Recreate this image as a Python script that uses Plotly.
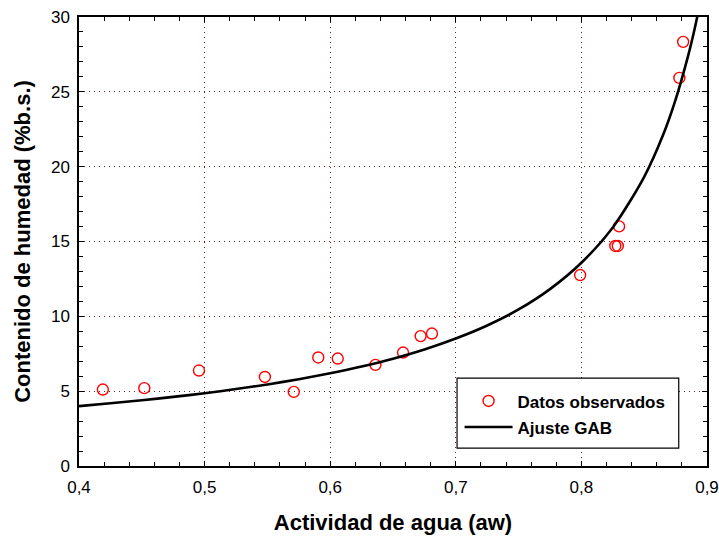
import plotly.graph_objects as go

# Observed moisture sorption data
aw_obs = [0.419, 0.452, 0.4955, 0.548, 0.571, 0.5905, 0.606, 0.636, 0.658,
          0.672, 0.681, 0.799, 0.827, 0.829, 0.830, 0.878, 0.881]
m_obs = [5.11, 5.20, 6.38, 5.95, 4.95, 7.25, 7.18, 6.76, 7.58,
         8.68, 8.85, 12.76, 14.70, 14.70, 16.01, 25.93, 28.34]

# GAB fitted curve, sampled along water activity
aw_fit = [0.400, 0.425, 0.450, 0.475, 0.500, 0.525, 0.550, 0.575, 0.600,
          0.625, 0.650, 0.675, 0.700, 0.725, 0.750, 0.775, 0.800, 0.825,
          0.850, 0.865, 0.875, 0.885, 0.890, 0.895]
m_fit = [4.00, 4.19, 4.39, 4.62, 4.86, 5.14, 5.45, 5.80, 6.20,
         6.65, 7.17, 7.79, 8.52, 9.39, 10.46, 11.82, 13.58, 15.94,
         19.32, 22.11, 24.48, 27.42, 29.15, 31.14]

x_ticks = [0.4, 0.5, 0.6, 0.7, 0.8, 0.9]
y_ticks = [0, 5, 10, 15, 20, 25, 30]

FONT = "Liberation Sans, Arial, sans-serif"
GRID = "#5c2222"

fig = go.Figure()
fig.add_trace(go.Scatter(
    x=aw_obs, y=m_obs, mode="markers", name="Datos observados",
    legendgroup="obs",
    marker=dict(symbol="circle-open", size=11, color="#ff0000",
                line=dict(width=1.4, color="#ff0000")),
))
fig.add_trace(go.Scatter(
    x=aw_fit, y=m_fit, mode="lines", name="Ajuste GAB",
    legendgroup="fit",
    line=dict(color="black", width=2.6, shape="spline", smoothing=0.8),
))

axis_common = dict(
    showline=True, linecolor="black", linewidth=1.5, mirror="allticks",
    ticks="inside", ticklen=5, tickwidth=1, tickcolor="black",
    showgrid=True, gridcolor=GRID, gridwidth=1, griddash="1px,4px",
    zeroline=False, automargin=False,
    tickfont=dict(family=FONT, size=17, color="black"),
)

fig.update_xaxes(
    **axis_common,
    range=[0.4, 0.9], tickvals=x_ticks, tickformat=".1f",
    minor=dict(dtick=0.02, ticks="inside", ticklen=4, tickcolor="black",
               showgrid=False),
    title=dict(text="<b>Actividad de agua (aw)</b>",
               font=dict(family=FONT, size=22, color="black"), standoff=18),
    ticklabelstandoff=5,
)
fig.update_yaxes(
    **axis_common,
    range=[0, 30], tickvals=y_ticks,
    minor=dict(dtick=1, ticks="inside", ticklen=4, tickcolor="black",
               showgrid=False),
    title=dict(text="<b>Contenido de humedad (%b.s.)</b>",
               font=dict(family=FONT, size=22, color="black"), standoff=14),
    ticklabelstandoff=4,
)

# Legend frame
fig.add_shape(type="rect", xref="paper", yref="paper",
              x0=0.602, x1=0.955, y0=0.04, y1=0.1955,
              line=dict(color="black", width=1.2), fillcolor="white",
              layer="above")

fig.update_layout(
    width=719, height=539,
    margin=dict(l=79, r=12, t=17, b=73),
    paper_bgcolor="white", plot_bgcolor="white",
    separators=",.",
    showlegend=True,
    legend=dict(x=0.606, y=0.184, xanchor="left", yanchor="top",
                bgcolor="rgba(0,0,0,0)", borderwidth=0,
                font=dict(family=FONT, size=17, color="black", weight="bold"),
                tracegroupgap=1, itemwidth=48),
    font=dict(family=FONT, color="black"),
)

fig.write_html("out.html")
